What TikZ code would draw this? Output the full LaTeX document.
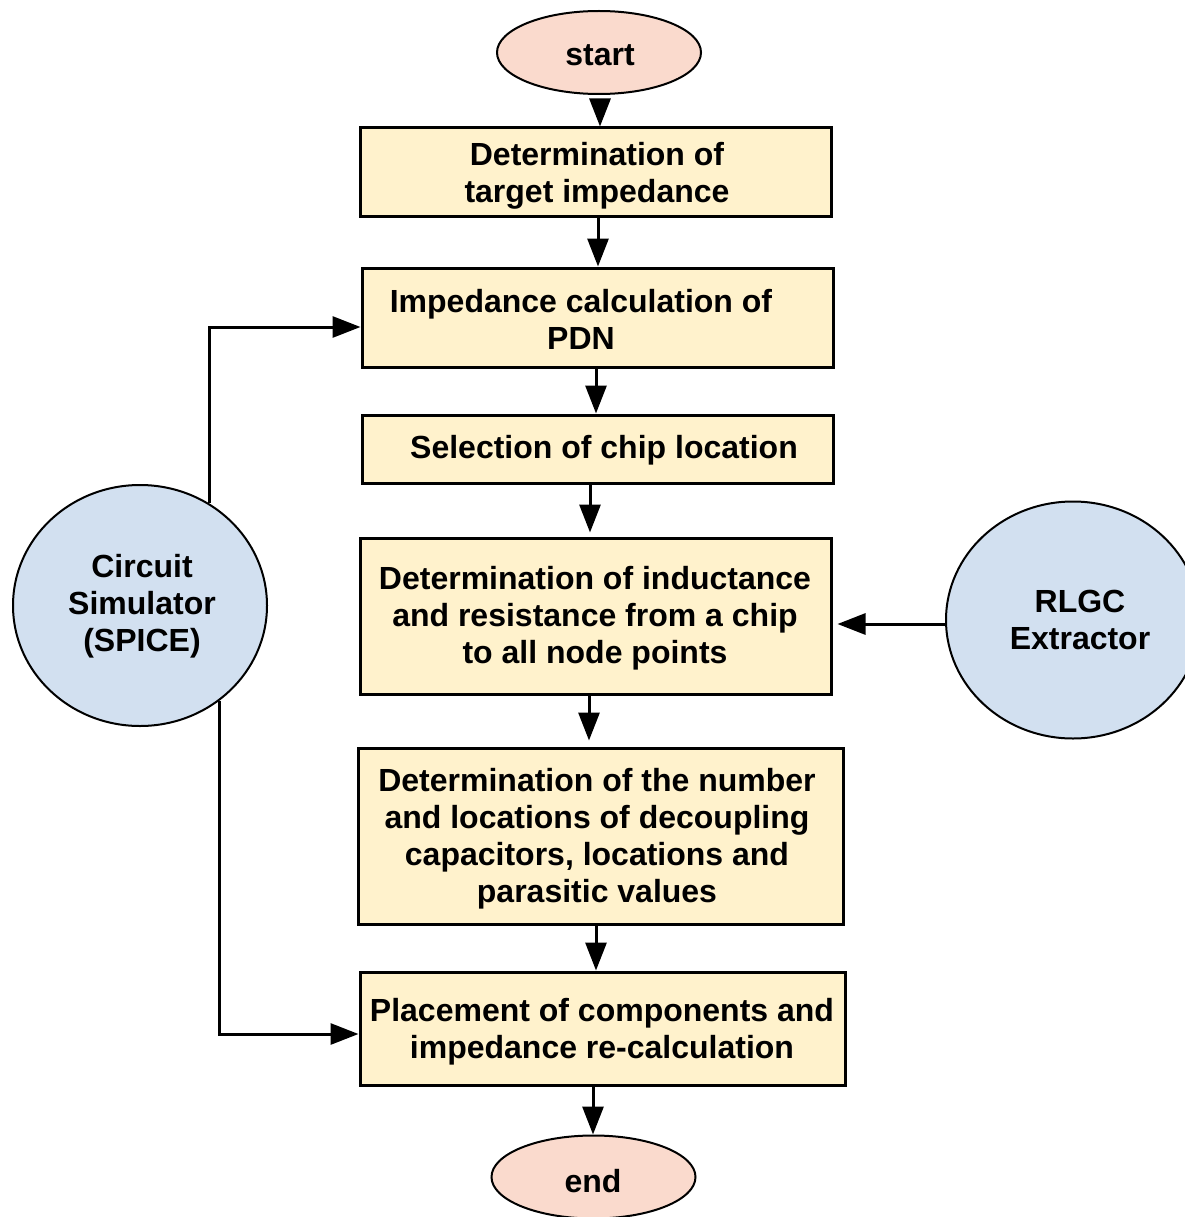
\documentclass[tikz,border=0pt]{standalone}
\usepackage{fontspec}
\setmainfont{Liberation Sans}
\usetikzlibrary{arrows.meta,shapes.geometric}

\definecolor{stepfill}{HTML}{FFF2CC}
\definecolor{termfill}{HTML}{FADACD}
\definecolor{toolfill}{HTML}{D2E0F0}

\tikzset{
  stepbox/.style={draw, line width=3pt, fill=stepfill, inner sep=0pt},
  term/.style={ellipse, draw, line width=2pt, fill=termfill, inner sep=0pt,
               minimum width=204pt, minimum height=83pt},
  tool/.style={ellipse, draw, line width=2pt, fill=toolfill, inner sep=0pt,
               minimum width=254pt},
  label/.style={align=center, inner sep=0pt,
                font=\fontsize{32}{37}\selectfont\bfseries},
  flow/.style={line width=3pt, -{Triangle[length=28pt,width=21pt]}},
}

\begin{document}
\begin{tikzpicture}[x=1pt,y=-1pt]
\useasboundingbox (0,0) rectangle (1184,1217);

% terminals
\node[term] (start) at (599,52.5) {};
\node[label] (tstart) at (600,55) {start};
\node[term] (end) at (593.5,1177) {};
\node[label] (tend) at (593,1181) {end};

% process steps
\node[stepbox, minimum width=471pt, minimum height=88pt]  (b1) at (595.5,172) {};
\node[stepbox, minimum width=471pt, minimum height=99pt]  (b2) at (597.5,317.5) {};
\node[stepbox, minimum width=471pt, minimum height=68pt]  (b3) at (597.5,449) {};
\node[stepbox, minimum width=471pt, minimum height=156pt] (b4) at (595.5,616) {};
\node[stepbox, minimum width=485pt, minimum height=176pt] (b5) at (600.5,836) {};
\node[stepbox, minimum width=485pt, minimum height=113pt] (b6) at (602.5,1028.5) {};

\node[label] (t1) at (597,176)   {Determination of\\target impedance};
\node[label] (t2) at (581,319.5) {Impedance calculation of\\PDN};
\node[label] (t3) at (604,450)   {Selection of chip location};
\node[label] (t4) at (595,618)   {Determination of inductance\\and resistance from a chip\\to all node points};
\node[label] (t5) at (597,839)   {Determination of the number\\and locations of decoupling\\capacitors, locations and\\parasitic values};
\node[label] (t6) at (602,1032)  {Placement of components and\\impedance re-calculation};

% external tools
\node[tool, minimum height=241pt] (sim) at (140,605.5) {};
\node[label] (tsim) at (142,606) {Circuit\\Simulator\\(SPICE)};
\node[tool, minimum height=237pt] (rlgc) at (1073,620) {};
\node[label] (trlgc) at (1080,619.5) {RLGC\\Extractor};

% main flow
\draw[flow, shorten <=4pt] (start.south -| 600,0) -- (b1.north -| 600,0);
\draw[flow] (b1.south -| 598,0) -- (b2.north -| 598,0);
\draw[flow] (b2.south -| 596,0) -- (b3.north -| 596,0);
\draw[flow, shorten >=4pt] (b3.south -| 590,0) -- (b4.north -| 590,0);
\draw[flow, shorten >=6pt] (b4.south -| 589,0) -- (b5.north -| 589,0);
\draw[flow] (b5.south -| 596,0) -- (b6.north -| 596,0);
\draw[flow] (b6.south -| 593,0) -- (end.north -| 593,0);

% feedback from the simulator and the extractor
\coordinate (upper) at (0,327);
\coordinate (lower) at (0,1034);
\coordinate (side) at (0,624);
\draw[flow] (sim.56) -- (sim.56 |- upper) -- (b2.west |- upper);
\draw[flow] (sim.-50) -- (sim.-50 |- lower) -- (b6.west |- lower);
\draw[flow, shorten >=5pt] (rlgc.west |- side) -- (b4.east |- side);
\end{tikzpicture}
\end{document}
